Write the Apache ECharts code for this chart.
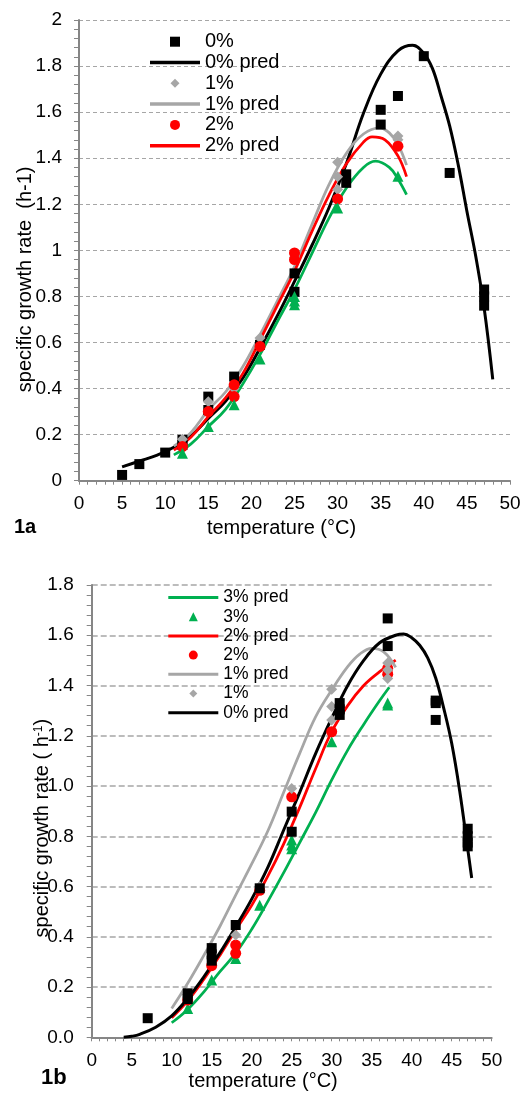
<!DOCTYPE html>
<html><head><meta charset="utf-8">
<script src="https://cdn.jsdelivr.net/npm/echarts/dist/echarts.min.js"></script>
<style>html,body{margin:0;padding:0;background:#fff}#c{width:521px;height:1093px}</style>
</head><body><div id="c"></div>
<script>
// ---------- Tick labels ----------
const xTickLabels = ['0','5','10','15','20','25','30','35','40','45','50'];
const yTickLabelsA = ['0','0.2','0.4','0.6','0.8','1','1.2','1.4','1.6','1.8','2'];
const yTickLabelsB = ['0.0','0.2','0.4','0.6','0.8','1.0','1.2','1.4','1.6','1.8'];

// ---------- Panel 1a : observations [temperature, rate] ----------
const obsA0 = [[5,0.025],[7,0.072],[10,0.122],[12,0.177],[12,0.155],[15,0.365],[15,0.307],[18,0.452],[21,0.59],[25,0.90],[25,0.82],[31,1.33],[31,1.293],[35,1.61],[35,1.546],[37,1.67],[40,1.843],[43,1.336],[47,0.83],[47,0.80],[47,0.76]];
const obsA1 = [[12,0.18],[15,0.343],[18,0.40],[21,0.62],[25,0.97],[30,1.383],[30,1.319],[30,1.264],[37,1.496],[37,1.48]];
const obsA2 = [[12,0.148],[15,0.30],[18,0.416],[18,0.365],[21,0.583],[25,0.989],[25,0.96],[30,1.223],[37,1.452]];
const obsA3 = [[12,0.119],[15,0.235],[18,0.33],[21,0.528],[25,0.80],[25,0.78],[25,0.764],[30,1.184],[37,1.322]];
// ---------- Panel 1a : predicted curves ----------
const predA0 = [[5,0.06],[7,0.085],[9,0.11],[11,0.145],[13,0.195],[15,0.27],[17,0.345],[19,0.445],[21,0.575],[23,0.715],[25,0.865],[27,1.02],[29,1.185],[31,1.375],[33,1.595],[35,1.765],[37,1.866],[38.7,1.89],[40,1.855],[41,1.79],[42,1.67],[43,1.54],[44,1.37],[45,1.17],[46,0.98],[47,0.75],[48,0.44]];
const predA1 = [[11,0.15],[13,0.21],[15,0.307],[17,0.385],[19,0.495],[21,0.633],[23,0.78],[25,0.93],[27,1.11],[29,1.285],[31,1.42],[33,1.505],[34.9,1.532],[36,1.51],[37,1.46],[38,1.37]];
const predA2 = [[11,0.133],[13,0.19],[15,0.278],[17,0.36],[19,0.465],[21,0.61],[23,0.76],[25,0.909],[27,1.08],[29,1.24],[31,1.375],[33,1.47],[34,1.493],[35.5,1.48],[37,1.41],[38,1.32]];
const predA3 = [[11,0.112],[13,0.16],[15,0.235],[17,0.31],[19,0.42],[21,0.547],[23,0.69],[25,0.83],[27,0.985],[29,1.14],[31,1.27],[33,1.36],[34.4,1.387],[36,1.36],[37,1.31],[38,1.242]];

// ---------- Panel 1b : observations ----------
const obsB0 = [[7,0.076],[12,0.175],[12,0.152],[15,0.355],[15,0.33],[15,0.305],[18,0.447],[21,0.593],[25,0.898],[25,0.818],[31,1.33],[31,1.305],[31,1.283],[37,1.667],[37,1.557],[43,1.34],[43,1.33],[43,1.263],[47,0.83],[47,0.80],[47,0.775],[47,0.76]];
const obsB1 = [[12,0.17],[15,0.34],[18,0.407],[21,0.60],[25,0.99],[30,1.385],[30,1.316],[30,1.263],[37,1.49],[37,1.462],[37,1.428]];
const obsB2 = [[12,0.148],[15,0.285],[18,0.367],[18,0.334],[21,0.585],[25,0.957],[30,1.216],[37,1.468],[37,1.445]];
const obsB3 = [[12,0.115],[15,0.228],[18,0.314],[21,0.526],[25,0.785],[25,0.765],[25,0.75],[30,1.176],[37,1.33],[37,1.322]];
// ---------- Panel 1b : predicted curves ----------
const predB0 = [[4,0.0],[5,0.004],[6,0.012],[8,0.04],[10,0.085],[12,0.155],[14,0.24],[16,0.335],[18,0.44],[20,0.55],[22,0.675],[24,0.825],[26,0.975],[28,1.13],[30,1.27],[32,1.40],[34,1.50],[36,1.57],[38,1.60],[39,1.605],[40,1.59],[41,1.56],[42,1.51],[43,1.43],[44,1.31],[45,1.17],[46,0.98],[47,0.75],[47.5,0.634]];
const predB1 = [[10,0.115],[12,0.215],[14,0.325],[16,0.44],[18,0.566],[20,0.69],[22,0.82],[24,0.975],[26,1.13],[28,1.276],[30,1.382],[32,1.475],[33.5,1.525],[35,1.548],[36.5,1.534],[38,1.472]];
const predB2 = [[10,0.078],[12,0.145],[14,0.23],[16,0.325],[18,0.427],[20,0.525],[22,0.64],[24,0.77],[26,0.915],[28,1.07],[30,1.216],[32,1.32],[34,1.40],[36,1.455],[38,1.501]];
const predB3 = [[10,0.058],[12,0.111],[14,0.18],[16,0.26],[18,0.335],[20,0.43],[22,0.54],[24,0.655],[26,0.775],[28,0.895],[30,1.024],[32,1.143],[34,1.245],[36,1.34],[37.2,1.393]];

const FONT = '"Liberation Sans", Arial, sans-serif';
const AX = '#868686';
const GRIDC = '#a6a6a6';
const C0 = '#000000', C1 = '#a6a6a6', C2 = '#ff0000', C3 = '#00b050';

// legend icon shapes drawn inside a 50 x H box (leading moveTo fixes the box)
function box(H) { return 'path://M0,0M50,' + H; }
function lineIcon(H, t) { const a=(H-t)/2, b=(H+t)/2; return box(H)+`M0,${a}L50,${a}L50,${b}L0,${b}Z`; }
function squareIcon(H, s) { const a=(H-s)/2, b=(H+s)/2, l=25-s/2, r=25+s/2; return box(H)+`M${l},${a}L${r},${a}L${r},${b}L${l},${b}Z`; }
function diamondIcon(H, s) { const a=(H-s)/2, b=(H+s)/2, l=25-s/2, r=25+s/2; return box(H)+`M25,${a}L${r},${H/2}L25,${b}L${l},${H/2}Z`; }
function triangleIcon(H, s) { const a=(H-s)/2, b=(H+s)/2, l=25-s/2, r=25+s/2; return box(H)+`M25,${a}L${r},${b}L${l},${b}Z`; }

function lineS(name, data, color, width, idx) {
  return {type:'line', name, data, xAxisIndex:idx, yAxisIndex:idx, smooth:0.4,
    showSymbol:false, symbol:'none', lineStyle:{color, width, opacity:1}, itemStyle:{color, opacity:1},
    silent:true, z:2};
}
function dotS(name, data, color, symbol, size, idx) {
  return {type:'scatter', name, data, xAxisIndex:idx, yAxisIndex:idx, symbol, symbolSize:size,
    itemStyle:{color, opacity:1}, silent:true, z:3};
}
function xAxisCfg(idx, gap, padR) {
  return {type:'value', gridIndex:idx, min:0, max:50, interval:5,
    axisLine:{show:true, onZero:false, lineStyle:{color:AX, width:2}},
    axisTick:{show:true, length:4, lineStyle:{color:AX, width:1}},
    minorTick:{show:true, splitNumber:5, length:4, lineStyle:{color:AX, width:1}},
    splitLine:{show:false}, minorSplitLine:{show:false},
    axisLabel:{margin:14, fontSize:19, color:'#000', fontFamily:FONT,
      formatter:v => xTickLabels[Math.round(v/5)]},
    name:'temperature (°C)', nameLocation:'middle', nameGap:gap, nameMoveOverlap:false,
    nameTextStyle:{fontSize:20, color:'#000', fontFamily:FONT, padding:[0,padR,0,0]}
  };
}
function yAxisCfg(idx, max, labels, margin, dash, dw, name, gap, padR, rich) {
  return {type:'value', gridIndex:idx, min:0, max, interval:0.2,
    axisLine:{show:true, lineStyle:{color:AX, width:2}},
    axisTick:{show:true, length:5, lineStyle:{color:AX, width:1}},
    minorTick:{show:true, splitNumber:5, length:5, lineStyle:{color:AX, width:1}},
    splitLine:{show:true, lineStyle:{color:GRIDC, width:dw, type:dash}},
    minorSplitLine:{show:false},
    axisLabel:{margin, fontSize:19, color:'#000', fontFamily:FONT,
      formatter:v => labels[Math.round(v/0.2)]},
    name, nameLocation:'middle', nameGap:gap, nameMoveOverlap:false,
    nameTextStyle:{fontSize:20, color:'#000', fontFamily:FONT, padding:[0,padR,0,0], rich}
  };
}

const HA = 10, HB = 9;
const chart = echarts.init(document.getElementById('c'), null, {renderer:'canvas'});
chart.setOption({
  animation:false,
  backgroundColor:'#fff',
  grid:[
    {left:79, top:20, width:431, height:460.7, outerBoundsMode:'none', containLabel:false},
    {left:91.7, top:585, width:400, height:452.3, outerBoundsMode:'none', containLabel:false}
  ],
  xAxis:[xAxisCfg(0, 37.6, 26), xAxisCfg(1, 34.4, 57)],
  yAxis:[
    yAxisCfg(0, 2, yTickLabelsA, 17, [4,3], 1, 'specific growth rate  (h-1)', 44, 58),
    yAxisCfg(1, 1.8, yTickLabelsB, 18, [6,3], 1.6, 'specific growth rate ( h{sup|-1})', 39, 34,
      {sup:{fontSize:12, verticalAlign:'top', fontFamily:FONT, color:'#000'}})
  ],
  legend:[
    {orient:'vertical', left:150, top:31.7, padding:0, itemWidth:50, itemHeight:HA, itemGap:0.8,
     selectedMode:false, symbolKeepAspect:true, itemStyle:{borderWidth:0, opacity:1},
     textStyle:{fontSize:20, color:'#000', fontFamily:FONT},
     data:[{name:'0%', icon:squareIcon(HA,10)},{name:'0% pred', icon:lineIcon(HA,3.5)},
           {name:'1%', icon:diamondIcon(HA,9)},{name:'1% pred', icon:lineIcon(HA,3.5)},
           {name:'2%', icon:'circle'},{name:'2% pred', icon:lineIcon(HA,3.5)}]},
    {orient:'vertical', left:168.3, top:588.5, padding:0, itemWidth:50, itemHeight:HB, itemGap:1.2,
     selectedMode:false, symbolKeepAspect:true, itemStyle:{borderWidth:0, opacity:1},
     textStyle:{fontSize:17.5, color:'#000', fontFamily:FONT},
     data:[{name:'3% pred', icon:lineIcon(HB,3)},{name:'3%', icon:triangleIcon(HB,9)},
           {name:'2% pred', icon:lineIcon(HB,3)},{name:'2%', icon:'circle'},
           {name:'1% pred', icon:lineIcon(HB,3)},{name:'1%', icon:diamondIcon(HB,8)},
           {name:'0% pred', icon:lineIcon(HB,3)}]}
  ],
  graphic:[
    {type:'text', left:14, top:517, style:{text:'1a', font:'bold 20px "Liberation Sans", Arial, sans-serif', fill:'#000'}},
    {type:'text', left:41, top:1067, style:{text:'1b', font:'bold 22px "Liberation Sans", Arial, sans-serif', fill:'#000'}}
  ],
  series:[
    lineS('0% pred', predA0, C0, 3, 0),
    lineS('1% pred', predA1, C1, 2.75, 0),
    lineS('2% pred', predA2, C2, 2.75, 0),
    lineS('3% pred', predA3, C3, 2.75, 0),
    dotS('0%', obsA0, C0, 'rect', 10, 0),
    dotS('1%', obsA1, C1, 'diamond', 11, 0),
    dotS('2%', obsA2, C2, 'circle', 11, 0),
    dotS('3%', obsA3, C3, 'triangle', 11, 0),

    lineS('3% pred', predB3, C3, 2.75, 1),
    lineS('2% pred', predB2, C2, 2.75, 1),
    lineS('1% pred', predB1, C1, 2.75, 1),
    lineS('0% pred', predB0, C0, 3, 1),
    dotS('3%', obsB3, C3, 'triangle', 11, 1),
    dotS('2%', obsB2, C2, 'circle', 11, 1),
    dotS('1%', obsB1, C1, 'diamond', 11, 1),
    dotS('0%', obsB0, C0, 'rect', 10, 1)
  ]
});
</script></body></html>
